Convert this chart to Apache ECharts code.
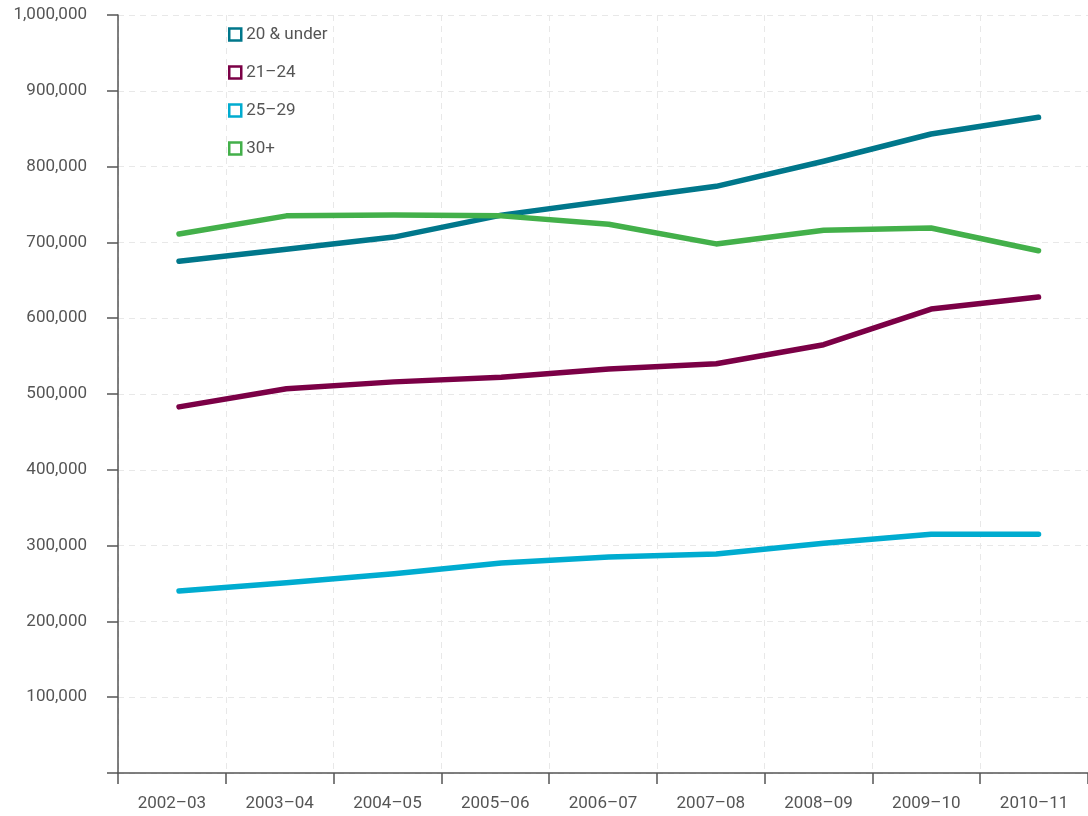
<!DOCTYPE html>
<html><head><meta charset="utf-8">
<script src="https://cdn.jsdelivr.net/npm/echarts@6/dist/echarts.min.js"></script>
<style>html,body{margin:0;padding:0;background:#fff}#c{width:1088px;height:816px}</style>
</head><body><div id="c"></div>
<script>
const categories = ['2002–03','2003–04','2004–05','2005–06','2006–07','2007–08','2008–09','2009–10','2010–11'];
const seriesNames = ['20 & under','21–24','25–29','30+'];
const under20 = [675000,691000,707000,736000,755000,774000,807000,843000,865000];
const age21_24 = [483000,507000,516000,522000,533000,540000,565000,612000,628000];
const age25_29 = [240000,251000,263000,277000,285000,289000,303000,315000,315000];
const age30plus = [711000,735000,736000,735000,724000,698000,716000,719000,689000];
const colors = ['#00778b','#7b0046','#00acd0','#43b04a'];

const chart = echarts.init(document.getElementById('c'));
const fontFamily = 'Roboto, "DejaVu Sans", sans-serif';
const dataSets = [under20, age21_24, age25_29, age30plus];
chart.setOption({
  animation: false,
  textStyle: {fontFamily},
  grid: {left: 118, right: 0, top: 15, bottom: 43},
  legend: {
    orient: 'vertical', left: 223, top: 21, itemGap: 21,
    itemWidth: 12, itemHeight: 12, icon: 'rect',
    textStyle: {color: '#555', fontSize: 17, fontFamily},
    data: seriesNames.map((n, i) => ({name: n, itemStyle: {color: '#fff', borderColor: colors[i], borderWidth: 2.5}}))
  },
  xAxis: [{
    type: 'category', data: categories, boundaryGap: true,
    axisLine: {lineStyle: {color: '#555', width: 1.5}},
    axisTick: {show: true, length: 11, lineStyle: {color: '#555', width: 1.5}},
    axisLabel: {color: '#555', fontSize: 17, margin: 22, interval: 0},
    splitLine: {show: true, lineStyle: {color: '#e8e8e8', type: [6, 5], width: 1}}
  }, {
    type: 'value', show: false, min: -0.5678, max: 8.4605,
    splitLine: {show: false}
  }],
  yAxis: {
    type: 'value', min: 0, max: 1000000, interval: 100000,
    axisLine: {show: true, onZero: false, lineStyle: {color: '#555', width: 1.5}},
    axisTick: {show: true, length: 11, lineStyle: {color: '#555', width: 1.5}},
    axisLabel: {color: '#555', fontSize: 17, margin: 31,
      formatter: v => v === 0 ? '' : v.toString().replace(/\B(?=(\d{3})+(?!\d))/g, ',')},
    splitLine: {show: true, lineStyle: {color: '#e8e8e8', type: [6, 5], width: 1}}
  },
  series: seriesNames.map((n, i) => ({
    name: n, type: 'line', xAxisIndex: 1,
    data: dataSets[i].map((v, k) => [k, v]),
    symbol: 'none', showSymbol: false,
    lineStyle: {color: colors[i], width: 5.5, cap: 'round', join: 'round'},
    itemStyle: {color: colors[i]}
  }))
});
</script></body></html>
